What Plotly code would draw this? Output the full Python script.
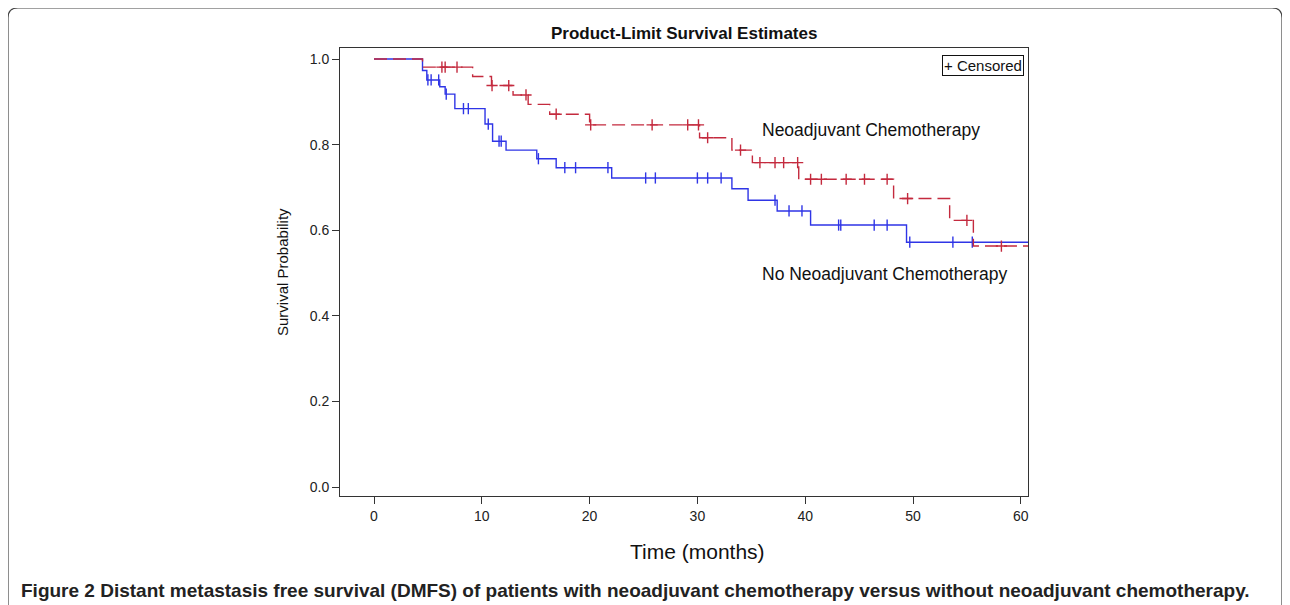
import plotly.graph_objects as go

# ---------------- data ----------------
# Neoadjuvant chemotherapy (red, dashed)
neo_times = [0, 4.5, 9.15, 10.9, 12.9, 14.3, 16.3, 20.0, 30.2, 33.2, 35.1, 39.4, 48.2, 53.4, 55.6]
neo_surv = [1.0, 0.981, 0.959, 0.938, 0.916, 0.894, 0.871, 0.846, 0.816, 0.787, 0.758, 0.719, 0.674, 0.623, 0.563]
neo_cens = [6.3, 6.6, 7.7, 10.95, 12.5, 14.1, 16.9, 20.1, 25.8, 29.1, 30.1, 30.95, 34.0,
            35.8, 37.2, 38.0, 39.3, 40.5, 41.5, 43.8, 45.5, 47.6, 49.5, 55.0, 58.2]

# No neoadjuvant chemotherapy (blue, solid)
non_times = [0, 4.5, 4.9, 6.1, 6.6, 7.5, 10.3, 11.0, 12.25, 15.1, 16.9, 22.05, 33.2, 34.7, 37.4, 40.5, 49.4]
non_surv = [1.0, 0.973, 0.951, 0.935, 0.918, 0.884, 0.848, 0.808, 0.787, 0.767, 0.746, 0.722, 0.697, 0.670, 0.645, 0.612, 0.572]
non_cens = [5.0, 5.3, 6.0, 6.7, 8.3, 8.75, 10.6, 11.6, 11.8, 15.25, 17.7, 18.7, 21.7, 25.2, 26.1,
            30.0, 30.95, 32.2, 37.2, 38.5, 39.7, 43.1, 43.3, 46.4, 47.6, 49.7, 53.7, 55.5]

x_ticks = [0, 10, 20, 30, 40, 50, 60]
y_ticks = [0.0, 0.2, 0.4, 0.6, 0.8, 1.0]
x_end = 61.5

RED = "#c42a3e"
BLUE = "#2f35e6"


def surv_at(times, surv, t):
    s = surv[0]
    for ti, si in zip(times, surv):
        if ti <= t:
            s = si
    return s


# ---------------- figure ----------------
W, H = 1290, 605
OFF = 8  # page body margin offset
L, R, T, B = 340 - OFF, 1028 - OFF, 48 - OFF, 496 - OFF  # plot area in figure pixels


def px(x):
    return (x - OFF - L) / (R - L)


def py(y):
    return (B - (y - OFF)) / (B - T)


fig = go.Figure()

# blue first (drawn under red)
fig.add_trace(go.Scatter(
    x=non_times + [x_end], y=non_surv + [non_surv[-1]],
    mode="lines", line=dict(color=BLUE, width=1.4, shape="hv"),
    showlegend=False, hoverinfo="skip"))
fig.add_trace(go.Scatter(
    x=non_cens, y=[surv_at(non_times, non_surv, t) for t in non_cens],
    mode="markers", marker=dict(symbol="line-ns", size=8, line=dict(color=BLUE, width=1.4)),
    showlegend=False, hoverinfo="skip"))

fig.add_trace(go.Scatter(
    x=neo_times + [x_end], y=neo_surv + [neo_surv[-1]],
    mode="lines", line=dict(color=RED, width=1.4, shape="hv", dash="13px,6px"),
    showlegend=False, hoverinfo="skip"))
fig.add_trace(go.Scatter(
    x=neo_cens, y=[surv_at(neo_times, neo_surv, t) for t in neo_cens],
    mode="markers", marker=dict(symbol="cross-thin", size=8, line=dict(color=RED, width=1.4)),
    showlegend=False, hoverinfo="skip"))

font = "Liberation Sans, Arial, sans-serif"
axis_common = dict(
    showline=True, linecolor="#333333", linewidth=1, mirror=True,
    ticks="outside", ticklen=7, tickcolor="#333333", tickwidth=1,
    showgrid=False, zeroline=False,
    tickfont=dict(family=font, size=14, color="#222222"),
)

x0 = -34 / 10.78
x1 = (1028 - 374) / 10.78
y1 = (487 - 48) / 428
y0 = (487 - 496) / 428

fig.update_xaxes(range=[x0, x1], tickvals=x_ticks, **axis_common)
fig.update_yaxes(range=[y0, y1], tickvals=y_ticks, tickformat=".1f", **axis_common)

annotations = [
    dict(x=px(684), y=py(33), text="<b>Product-Limit Survival Estimates</b>",
         font=dict(family=font, size=17, color="#111111")),
    dict(x=px(697), y=py(551), text="Time (months)",
         font=dict(family=font, size=21, color="#111111")),
    dict(x=px(282), y=py(272), text="Survival Probability", textangle=-90,
         font=dict(family=font, size=15, color="#111111")),
    dict(x=px(760), y=py(130), text="Neoadjuvant Chemotherapy", xanchor="left",
         font=dict(family=font, size=17.5, color="#111111")),
    dict(x=px(760), y=py(274), text="No Neoadjuvant Chemotherapy", xanchor="left",
         font=dict(family=font, size=17.5, color="#111111")),
    dict(x=px(1024), y=py(65), text="+ Censored", xanchor="right",
         font=dict(family=font, size=15, color="#111111"),
         bordercolor="#111111", borderwidth=1, borderpad=1, bgcolor="white"),
    dict(x=px(19), y=py(590), xanchor="left",
         text="<b>Figure 2 Distant metastasis free survival (DMFS) of patients with neoadjuvant chemotherapy versus without neoadjuvant chemotherapy.</b>",
         font=dict(family=font, size=19, color="#222222")),
]
for a in annotations:
    a.setdefault("xref", "paper")
    a.setdefault("yref", "paper")
    a.setdefault("showarrow", False)
    a.setdefault("yanchor", "middle")
    a.setdefault("xanchor", "center")

# outer rounded frame (open at bottom)
lx, rx, ty, by, r = 8, 1282, 8, 640, 10
path = (f"M {px(lx)},{py(by)} L {px(lx)},{py(ty + r)} "
        f"Q {px(lx)},{py(ty)} {px(lx + r)},{py(ty)} "
        f"L {px(rx - r)},{py(ty)} "
        f"Q {px(rx)},{py(ty)} {px(rx)},{py(ty + r)} "
        f"L {px(rx)},{py(by)}")

fig.update_layout(
    width=W, height=H,
    margin=dict(l=L, r=W - R, t=T, b=H - B, pad=0),
    paper_bgcolor="white", plot_bgcolor="white",
    annotations=annotations,
    shapes=[dict(type="path", path=path, xref="paper", yref="paper",
                 line=dict(color="#444444", width=1.2), layer="above")],
)

fig.write_html("out.html")
